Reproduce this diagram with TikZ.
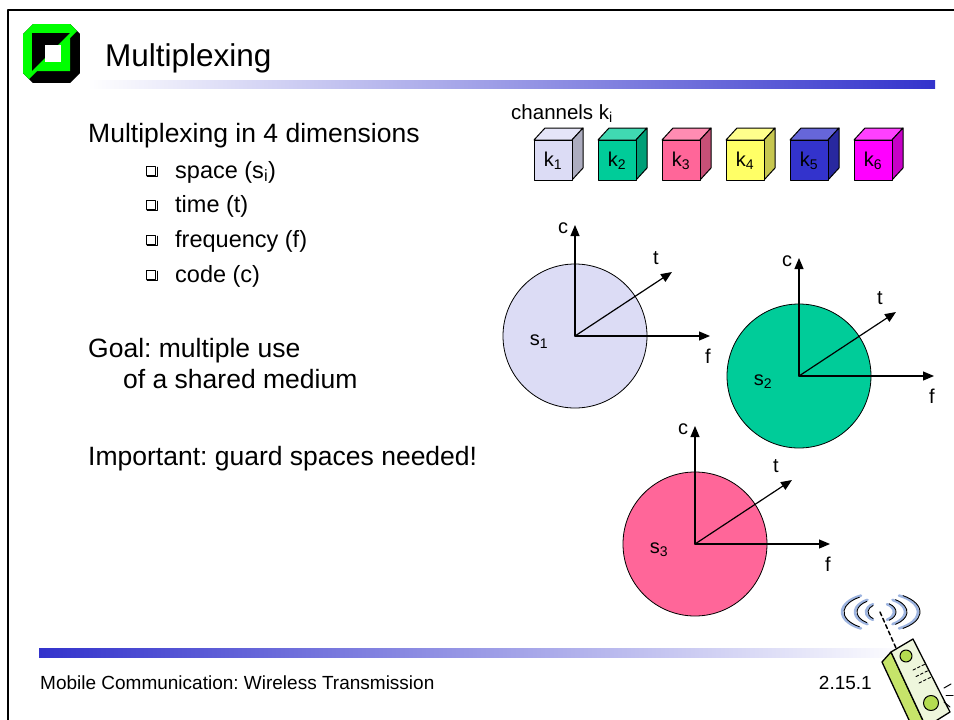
\documentclass[tikz,border=0pt]{standalone}
\usepackage{fontspec}
\setmainfont{Liberation Sans}
\usetikzlibrary{arrows.meta,calc,positioning}
\frenchspacing
\newcommand{\Unit}{1pt}
\newcommand{\Rad}{72}
\newcommand{\CubeW}{38}
\newcommand{\CubeH}{40}
\newcommand{\CubeDx}{11}
\newcommand{\CubeDy}{12}
\newcommand{\fs}[1]{\fontsize{#1}{#1}\selectfont}
\definecolor{barblue}{HTML}{3333CC}
\definecolor{logogreen}{HTML}{00FF00}
\definecolor{klilac}{HTML}{DCDCF5}
\definecolor{kteal}{HTML}{00CC99}
\definecolor{krose}{HTML}{FF6699}
\definecolor{kyellow}{HTML}{FFFF66}
\definecolor{kblue}{HTML}{3333CC}
\definecolor{kmagenta}{HTML}{FF00FF}
\definecolor{phonebody}{HTML}{EEF6DC}
\definecolor{phoneside}{HTML}{C6E46A}
\definecolor{phonekey}{HTML}{B4DC50}
\definecolor{wave}{HTML}{9DB4E0}

\begin{document}
\begin{tikzpicture}[x=\Unit,y=-\Unit, line join=round, line cap=round,
  txt/.style={anchor=base west, inner sep=0pt, font=\fs{26.5}},
  subtxt/.style={anchor=base west, inner sep=0pt, font=\fs{23.5}},
  axlabel/.style={inner sep=0pt, font=\fs{20}},
  axis/.style={-{Triangle[length=11pt,width=9pt]}, line width=1.2pt}]

  % ---- page -----------------------------------------------------------------
  \useasboundingbox (0,0) rectangle (954,720);
  \fill[white] (0,0) rectangle (954,720);
  \draw[line width=2pt] (8,10) rectangle (990,760);

  % ---- logo -----------------------------------------------------------------
  \begin{scope}
    \clip (33,24) -- (70,24) -- (80,34) -- (80,73) -- (70,83) -- (33,83)
      -- (23,73) -- (23,34) -- cycle;
    \fill[black] (23,24) rectangle (80,83);
    \fill[logogreen] (23,24) -- (84,24) -- (23,85) -- cycle;
  \end{scope}
  \fill[black] (32,33) rectangle (70,71);
  \fill[logogreen] (70,33) -- (70,71) -- (32,71) -- cycle;
  \fill[white] (45,45) rectangle (61,62);

  % ---- title and bars -------------------------------------------------------
  \node[anchor=base west, inner sep=0pt, font=\fs{31.5}] (title) at (105,66) {Multiplexing};
  \shade[left color=white, right color=barblue] (87,80) rectangle (935,88);
  \shade[left color=barblue, right color=white] (39,648) rectangle (910,657);

  % ---- left column ----------------------------------------------------------
  \node[txt] (dims) at (88,142) {Multiplexing in 4 dimensions};
  \foreach \name/\yy/\label in {space/178/{space (s\textsubscript{i})},
      time/212/{time (t)}, freq/247/{frequency (f)}, code/282/{code (c)}} {
    \draw[line width=1.8pt] (147.5,\yy-1.6) -- (157.4,\yy-1.6) -- (157.4,\yy-10.5);
    \filldraw[fill=white, line width=0.9pt] (146.5,\yy-11.5) rectangle (155.5,\yy-2.5);
    \node[subtxt] (\name) at (175,\yy) {\label};
  }
  \node[txt] (goal) at (88,357) {Goal: multiple use};
  \node[txt] (medium) at (123,388) {of a shared medium};
  \node[txt] (guard) at (88,465) {Important: guard spaces needed!};

  % ---- channels -------------------------------------------------------------
  \node[anchor=base west, inner sep=0pt, font=\fs{20.5}] (chan) at (511,119) {channels k\textsubscript{i}};
  \foreach \i/\col in {1/klilac, 2/kteal, 3/krose, 4/kyellow, 5/kblue, 6/kmagenta} {
    \pgfmathsetmacro\x{534+64*(\i-1)}
    \filldraw[fill=\col!75!white, line width=1pt] (\x,140) -- ++(\CubeDx,-\CubeDy)
      -- ++(\CubeW,0) -- ++(-\CubeDx,\CubeDy) -- cycle;
    \filldraw[fill=\col!78!black, line width=1pt] (\x+\CubeW,140) -- ++(\CubeDx,-\CubeDy)
      -- ++(0,\CubeH) -- ++(-\CubeDx,\CubeDy) -- cycle;
    \filldraw[fill=\col, line width=1pt] (\x,140) rectangle ++(\CubeW,\CubeH);
    \node[font=\fs{20}, inner sep=0pt] (k\i) at (\x+19,161) {k\textsubscript{\i}};
  }

  % ---- cells with their c/t/f axes ------------------------------------------
  \foreach \n/\cx/\cy/\cl/\col in {1/575/336/111/klilac, 2/799/376/118/kteal,
      3/695/544/118/krose} {
    \coordinate (o\n) at (\cx,\cy);
    \filldraw[fill=\col, line width=0.8pt] (o\n) circle (\Rad);
    \coordinate (c\n) at ($(o\n)+(0,-\cl)$);
    \coordinate (t\n) at ($(o\n)+(97,-64)$);
    \coordinate (f\n) at ($(o\n)+(135,0)$);
    \draw[axis] (o\n) -- (c\n);
    \draw[axis] (o\n) -- (t\n);
    \draw[axis] (o\n) -- (f\n);
    \node[axlabel] (cl\n) at ($(c\n)+(-12,3)$) {c};
    \node[axlabel] (tl\n) at ($(t\n)+(-16,-14)$) {t};
    \node[axlabel] (fl\n) at ($(f\n)+(-2,20)$) {f};
    \node[axlabel] (sl\n) at ($(o\n)+(-36,6)$) {s\textsubscript{\n}};
  }

  % ---- footer ---------------------------------------------------------------
  \node[anchor=base west, inner sep=0pt, font=\fs{19}] (foot) at (40,689)
    {Mobile Communication: Wireless Transmission};
  \node[anchor=base east, inner sep=0pt, font=\fs{19}] (page) at (872,689) {2.15.1};

  % ---- handset --------------------------------------------------------------
  \coordinate (aerial) at (880,612);
  \foreach \r/\h in {14/9, 25/14, 38/19} {
    \draw[wave, line width=2.6pt] ($(aerial)+({\r*cos(120)},{\h*sin(120)})$)
      arc[start angle=120, end angle=240, x radius=\r, y radius=\h];
    \draw[wave, line width=2.6pt] ($(aerial)+({\r*cos(-60)},{\h*sin(-60)})$)
      arc[start angle=-60, end angle=60, x radius=\r, y radius=\h];
    \draw[line width=0.9pt] ($(aerial)+({(\r-2)*cos(125)},{(\h-1)*sin(125)})$)
      arc[start angle=125, end angle=235, x radius=\r-2, y radius=\h-1];
    \draw[line width=0.9pt] ($(aerial)+({(\r+2)*cos(-55)},{(\h+1)*sin(-55)})$)
      arc[start angle=-55, end angle=55, x radius=\r+2, y radius=\h+1];
  }
  \draw[line width=1.5pt, dash pattern=on 4pt off 3pt] (aerial) -- (896,648);
  \filldraw[fill=phoneside, line width=1.3pt] (891,652) -- (882,662) -- (916,735)
    -- (926,727) -- cycle;
  \filldraw[fill=phonebody, line width=1.3pt] (891,652) -- (913,639) -- (950,712)
    -- (926,727) -- cycle;
  \filldraw[fill=phonekey, line width=1pt] (906,656) circle (6);
  \filldraw[fill=phonekey, line width=1pt] (931,703) circle (7.5);
  \foreach \u in {0,1,2} {
    \foreach \v in {0,1,2} {
      \draw[line width=0.9pt] ($(913,670)+(\u*4.5+\v*3,-\u*2.2+\v*6.5)$) -- ++(2.5,-1.2);
    }
  }
  \draw[line width=1pt] (944,688) -- (951,684);
  \draw[line width=1pt] (946,695) -- (953,695);
  \draw[line width=1pt] (944,702) -- (950,707);

\end{tikzpicture}
\end{document}
